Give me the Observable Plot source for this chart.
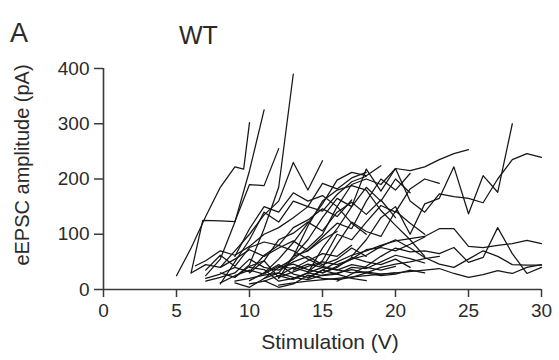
<!DOCTYPE html>
<html>
<head>
<meta charset="utf-8">
<script src="https://cdn.jsdelivr.net/npm/d3@7"></script>
<script src="https://cdn.jsdelivr.net/npm/@observablehq/plot@0.6"></script>
<style>
  html, body { margin: 0; padding: 0; background: #fff; }
  #wrap { position: relative; width: 559px; height: 360px; overflow: hidden; font-family: "Liberation Sans", Arial, sans-serif; color: #2a2a2a; }
  .lbl { position: absolute; white-space: nowrap; line-height: 1; }
</style>
</head>
<body>
<div id="wrap">
  <div class="lbl" style="left:10px; top:20px; font-size:27px;">A</div>
  <div class="lbl" style="left:179px; top:23px; font-size:25px;">WT</div>
  <div class="lbl" style="left:330px; top:331px; font-size:21px; transform:translateX(-50%);">Stimulation (V)</div>
  <div class="lbl" style="left:22px; top:165px; font-size:20px; transform:translate(-50%,-50%) rotate(-90deg);">eEPSC amplitude (pA)</div>
</div>
<script>
// Stimulation (V) vs eEPSC amplitude (pA), one array per recorded cell
const c01 = [[5,25],[6,75],[7,132],[8,185],[9,222],[9.6,218],[10,302]];
const c02 = [[7,25],[8,55],[9,122],[10,215],[11,325]];
const c03 = [[9,22],[10,45],[11,110],[12,185],[13,390]];
const c04 = [[6,30],[6.8,125],[8,124],[9,123],[10,190],[11,188],[12,255]];
const c05 = [[8,40],[9,70],[10,100],[11,135],[12,160],[13,230],[14,180],[15,233]];
const c06 = [[11,30],[12,55],[13,85],[14,120],[15,155],[16,198],[17,212],[18,206],[19,224]];
const c07 = [[12,20],[13,60],[14,115],[15,160],[16,180],[17,188],[18,180],[19,143],[20,116],[21,90],[22,60]];
const c08 = [[14,30],[15,75],[16,110],[17,150],[18,218],[19,178],[20,219],[21,160],[22,140],[23,173],[24,168],[25,165],[26,157],[27,200],[28,235],[29,246],[30,239]];
const c09 = [[17,60],[18,90],[19,130],[20,150],[21,100],[22,155],[23,165],[24,222],[25,137],[26,206],[27,176],[28,300]];
const c10 = [[12,40],[13,55],[14,75],[15,100],[16,150],[17,190],[18,200],[19,190],[20,219],[21,215],[22,222],[23,235],[24,246],[25,253]];
const c11 = [[14,20],[15,35],[16,50],[17,62],[18,70],[19,80],[20,88],[21,92],[22,96],[23,110],[24,110],[25,78],[26,76],[27,80],[28,83],[29,89],[30,83]];
const c12 = [[16,15],[17,28],[18,42],[19,60],[20,75],[21,68],[22,70],[23,65],[24,76],[25,49],[26,58],[27,112],[28,65],[29,29],[30,40]];
const c13 = [[15,30],[16,42],[17,55],[18,62],[19,78],[20,90],[21,75],[22,58],[23,46],[24,40],[25,55],[26,70],[27,60],[28,45],[29,44],[30,44]];
const c14 = [[12,8],[13,12],[14,15],[16,20],[18,25],[20,30],[22,35],[23,38],[24,29],[25,22],[26,27],[27,34],[28,29],[29,40],[30,45]];
const c15 = [[6,30],[7,45],[8,40],[9,55],[10,72],[11,60],[12,75],[13,88],[14,70],[15,90],[16,105]];
const c16 = [[6.3,43],[7,52],[8,70],[9,62],[10,78],[11,100],[12,112],[13,130],[14,150],[15,142],[16,172],[17,195],[18,205]];
const c17 = [[7,20],[8,28],[9,40],[10,32],[11,62],[12,80],[13,70],[14,55],[15,42],[16,36],[17,30],[18,32],[19,28],[20,30]];
const c18 = [[9,12],[10,4],[11,20],[12,40],[13,46],[14,36],[15,30],[16,40],[17,58],[18,50],[19,45],[20,55],[21,40]];
const c19 = [[10,30],[11,52],[12,22],[13,32],[14,42],[15,50],[16,45],[17,55],[18,72],[19,76],[20,70],[21,82],[22,95]];
const c20 = [[11,16],[12,4],[13,10],[14,26],[15,20],[16,18],[17,22],[18,30],[19,25],[20,28],[21,35],[22,30]];
const c21 = [[8,30],[9,22],[10,42],[11,52],[12,90],[13,102],[14,122],[15,106],[16,140],[17,158],[18,136],[19,162],[20,130]];
const c22 = [[7,35],[8,62],[9,42],[10,76],[11,86],[12,80],[13,112],[14,126],[15,146],[16,132],[17,162]];
const c23 = [[12,25],[13,40],[14,32],[15,52],[16,100],[17,90],[18,122],[19,152],[20,140],[21,182],[22,200],[23,192]];
const c24 = [[13,35],[14,46],[15,40],[16,82],[17,122],[18,105],[19,96],[20,142],[21,120],[22,100]];
const c25 = [[8,10],[9,50],[10,90],[11,140],[12,122],[13,160],[14,150],[15,192],[16,182],[17,202],[18,212]];
const c26 = [[9,15],[10,20],[11,26],[12,30],[13,22],[14,18],[15,26],[16,30],[17,36],[18,30],[19,40],[20,46],[21,50],[22,56],[23,60]];
const c27 = [[10,40],[11,36],[12,15],[13,20],[14,30],[15,25],[16,28],[17,20],[18,16]];
const c28 = [[7,15],[8,22],[9,30],[10,55],[11,40],[12,35],[13,50],[14,60],[15,45],[16,55],[17,75],[18,60]];
const c29 = [[10,16],[11,30],[12,45],[13,28],[14,22],[15,35],[16,28],[17,40],[18,38],[19,50],[20,62],[21,56],[22,48]];
const c30 = [[9,60],[10,110],[11,150],[12,140],[13,175],[14,160],[15,170],[16,150],[17,120],[18,100]];
const c31 = [[11,20],[12,30],[13,60],[14,90],[15,130],[16,165],[17,150],[18,185],[19,160],[20,200],[21,175]];
const c32 = [[10,10],[11,15],[12,25],[13,18],[14,30],[15,40],[16,35],[17,45],[18,40],[19,35],[20,42]];
const c33 = [[13,60],[14,70],[15,95],[16,120],[17,110],[18,160],[19,200],[20,180],[21,210]];
const c34 = [[8,12],[9,25],[10,35],[11,28],[12,42],[13,38],[14,52],[15,65],[16,60],[17,80]];

const xTicks = [0, 5, 10, 15, 20, 25, 30];
const yTicks = [0, 100, 200, 300, 400];

const cells = [c01,c02,c03,c04,c05,c06,c07,c08,c09,c10,c11,c12,c13,c14,c15,c16,c17,c18,c19,c20,c21,c22,c23,c24,c25,c26,c27,c28,c29,c30,c31,c32,c33,c34];
const rows = cells.flatMap((s, i) => s.map(([v, a]) => ({cell: i, v, a})));

const axisColor = "#3a3a3a";
const chart = Plot.plot({
  width: 559,
  height: 360,
  marginLeft: 103,
  marginRight: 18,
  marginTop: 68,
  marginBottom: 71,
  style: {fontFamily: "'Liberation Sans', Arial, sans-serif", color: "#2a2a2a", background: "transparent"},
  x: {domain: [0, 30]},
  y: {domain: [0, 400]},
  marks: [
    Plot.line(rows, {x: "v", y: "a", z: "cell", stroke: "#161616", strokeWidth: 1.25}),
    Plot.ruleY([0], {stroke: axisColor, strokeWidth: 1.6}),
    Plot.ruleX([0], {stroke: axisColor, strokeWidth: 1.6}),
    Plot.axisX({ticks: xTicks, tickSize: 8, tickPadding: 6, fontSize: 19, stroke: axisColor, strokeWidth: 1.5, label: null}),
    Plot.axisY({ticks: yTicks, tickSize: 9, tickPadding: 5, fontSize: 19, stroke: axisColor, strokeWidth: 1.5, label: null})
  ]
});
chart.style.position = "absolute";
chart.style.left = "0px";
chart.style.top = "0px";
document.getElementById("wrap").prepend(chart);
</script>
</body>
</html>
